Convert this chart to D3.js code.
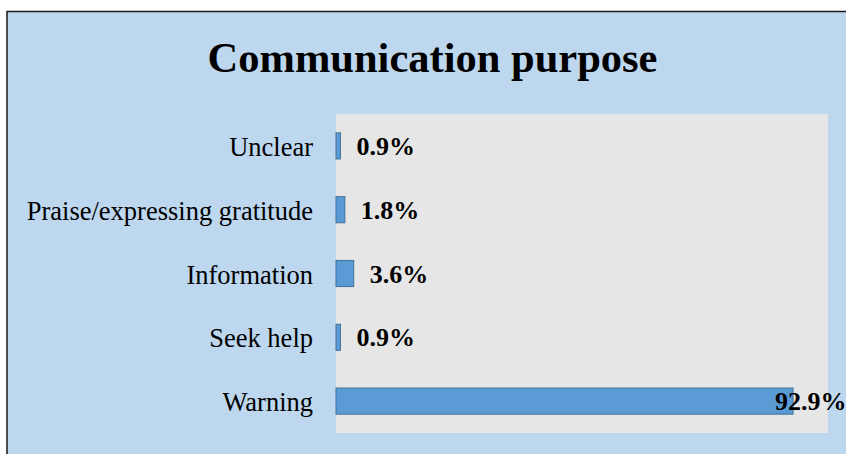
<!DOCTYPE html>
<html>
<head>
<meta charset="utf-8">
<script src="https://cdn.jsdelivr.net/npm/d3@7"></script>
<style>
  body { margin: 0; background: #fff; }
  svg { display: block; font-family: "Liberation Serif", "Times New Roman", serif; }
  .cat .tick text { font-size: 26.5px; fill: #000; }
  .val { font-size: 26px; font-weight: bold; fill: #000; }
</style>
</head>
<body>
<div id="vis"></div>
<script>
var categories = ["Unclear", "Praise/expressing gratitude", "Information", "Seek help", "Warning"];
var values = [0.9, 1.8, 3.6, 0.9, 92.9];
var valueLabels = ["0.9%", "1.8%", "3.6%", "0.9%", "92.9%"];
var title = "Communication purpose";

var width = 846;
var height = 454;
var margin = {top: 114, right: 18, bottom: 21, left: 336};

var svg = d3.select("#vis")
  .append("svg")
    .attr("width", width)
    .attr("height", height);

// chart frame
svg.append("rect")
  .attr("x", 7)
  .attr("y", 11.5)
  .attr("width", width)
  .attr("height", height)
  .attr("fill", "#bdd7ee")
  .attr("stroke", "#1a1a1a")
  .attr("stroke-width", 1.5);

svg.append("text")
  .attr("x", 432.5)
  .attr("y", 72)
  .attr("text-anchor", "middle")
  .style("font-size", "42.5px")
  .style("font-weight", "bold")
  .text(title);

var w = width - margin.left - margin.right;
var h = height - margin.top - margin.bottom;

var g = svg.append("g").attr("transform", "translate(" + margin.left + "," + margin.top + ")");

var x = d3.scaleLinear().domain([0, 100]).range([0, w]);
var y = d3.scaleBand().domain(categories).range([0, h]).paddingInner(0.59).paddingOuter(0.295);

g.append("rect")
  .attr("width", w)
  .attr("height", h)
  .attr("fill", "#e7e6e6");

var data = categories.map(function(c, i) { return {cat: c, v: values[i], label: valueLabels[i]}; });

g.selectAll(".bar")
  .data(data)
  .enter().append("rect")
    .attr("class", "bar")
    .attr("x", 0)
    .attr("y", function(d) { return y(d.cat); })
    .attr("width", function(d) { return x(d.v); })
    .attr("height", y.bandwidth())
    .attr("fill", "#5b9bd5")
    .attr("stroke", "#41719c")
    .attr("stroke-width", 1);

// category labels
var ax = g.append("g")
  .attr("class", "cat")
  .call(d3.axisLeft(y).tickSize(0).tickPadding(23));
ax.select(".domain").remove();
ax.selectAll(".tick text").attr("dy", "0.38em").style("font-family", "Liberation Serif, serif");

// value labels
g.selectAll(".val")
  .data(data)
  .enter().append("text")
    .attr("class", "val")
    .attr("x", function(d) {
      return x(d.v) > w * 0.5 ? x(d.v) - 18 : x(d.v) + 16;
    })
    .attr("y", function(d) { return y(d.cat) + y.bandwidth() / 2; })
    .attr("dy", "0.35em")
    .text(function(d) { return d.label; });
</script>
</body>
</html>
